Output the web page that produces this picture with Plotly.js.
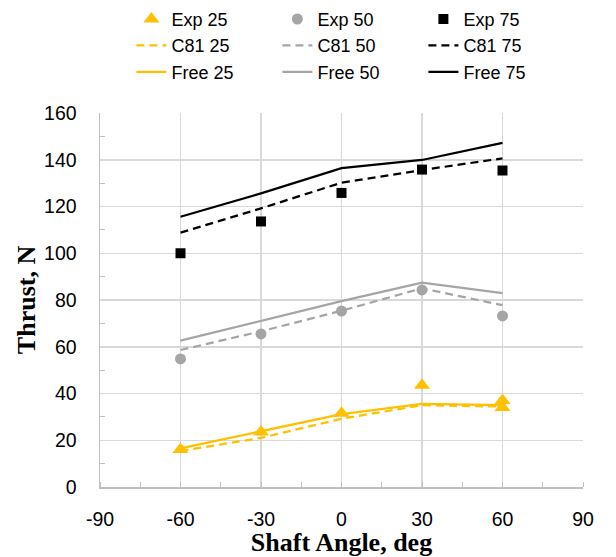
<!DOCTYPE html>
<html><head><meta charset="utf-8">
<script src="https://cdn.plot.ly/plotly-3.0.1.min.js"></script>
<style>html,body{margin:0;padding:0;background:#fff}</style>
</head><body>
<div id="chart" style="width:616px;height:557px"></div>
<script>
const angles = [-60, -30, 0, 30, 60];
const exp25X = [-60, -30, 0, 30, 60, 60];
const exp25 = [16, 23.5, 31.5, 43.5, 37, 34];
const exp50 = [54.8, 65.5, 75.3, 84.3, 73.2];
const exp75 = [100, 113.6, 125.8, 135.8, 135.4];
const c81_25 = [15.4, 21, 29.2, 35, 34.4];
const c81_50 = [58.6, 66.6, 75.4, 85, 77.8];
const c81_75 = [108.8, 119.2, 130.2, 135.6, 140.6];
const free25 = [16.5, 23.7, 31.2, 35.6, 35];
const free50 = [62.6, 71.2, 79.5, 87.4, 82.9];
const free75 = [115.6, 125.6, 136.4, 139.9, 147.2];
const xTickVals = [-90, -60, -30, 0, 30, 60, 90];
const xTickText = ['-90', '-60', '-30', '0', '30', '60', '90'];

const YEL = '#FFC000', GRY = '#A5A5A5', BLK = '#000000';
const lw = 2.25, dashP = '8px,5px';
const traces = [
  {x: exp25X, y: exp25, name: 'Exp 25', mode: 'markers', marker: {symbol: 'triangle-up', size: 14, color: YEL}},
  {x: angles, y: exp50, name: 'Exp 50', mode: 'markers', marker: {symbol: 'circle', size: 11, color: GRY}},
  {x: angles, y: exp75, name: 'Exp 75', mode: 'markers', marker: {symbol: 'square', size: 10, color: BLK}},
  {x: angles, y: c81_25, name: 'C81 25', mode: 'lines', line: {color: YEL, width: lw, dash: dashP}},
  {x: angles, y: c81_50, name: 'C81 50', mode: 'lines', line: {color: GRY, width: lw, dash: dashP}},
  {x: angles, y: c81_75, name: 'C81 75', mode: 'lines', line: {color: BLK, width: lw, dash: dashP}},
  {x: angles, y: free25, name: 'Free 25', mode: 'lines', line: {color: YEL, width: lw}},
  {x: angles, y: free50, name: 'Free 50', mode: 'lines', line: {color: GRY, width: lw}},
  {x: angles, y: free75, name: 'Free 75', mode: 'lines', line: {color: BLK, width: lw}}
];
const tickFont = {family: 'Liberation Sans, Arial, sans-serif', size: 19.5, color: '#000'};
const titleFont = {family: 'Liberation Serif, Times New Roman, serif', size: 26, color: '#000', weight: 'bold'};
const layout = {
  width: 616, height: 557,
  margin: {l: 100, r: 33, t: 113, b: 70, pad: 0, autoexpand: false},
  paper_bgcolor: '#fff', plot_bgcolor: '#fff',
  showlegend: true,
  legend: {orientation: 'h', x: 0.065, xanchor: 'left', y: 1.30, yanchor: 'top',
    entrywidth: 101, entrywidthmode: 'pixels', tracegroupgap: 0,
    font: {family: 'Liberation Sans, Arial, sans-serif', size: 18, color: '#000'},
    itemwidth: 30, traceorder: 'normal'},
  xaxis: {range: [-90, 90], tickmode: 'array', tickvals: xTickVals, ticktext: xTickText,
    showgrid: true, gridcolor: '#D9D9D9', gridwidth: 1.5,
    showline: true, linecolor: '#BFBFBF', linewidth: 1.5, zeroline: false, automargin: false,
    ticks: '', tickfont: tickFont, ticklabelstandoff: 14,
    minor: {dtick: 15, tick0: 0, ticks: 'inside', ticklen: 5, tickcolor: '#BFBFBF', showgrid: false},
    title: {text: 'Shaft Angle, deg', font: titleFont, standoff: 4}},
  yaxis: {range: [0, 160], dtick: 20, showgrid: true, gridcolor: '#D9D9D9', gridwidth: 1.5,
    showline: true, linecolor: '#BFBFBF', linewidth: 1.5, zeroline: false, automargin: false,
    ticks: '', tickfont: tickFont, ticklabelstandoff: 18,
    minor: {dtick: 10, ticks: 'inside', ticklen: 5, tickcolor: '#BFBFBF', showgrid: false},
    title: {text: 'Thrust, N', font: titleFont, standoff: 1}}
};
Plotly.newPlot('chart', traces, layout, {displayModeBar: false, staticPlot: true});
</script>
</body></html>
